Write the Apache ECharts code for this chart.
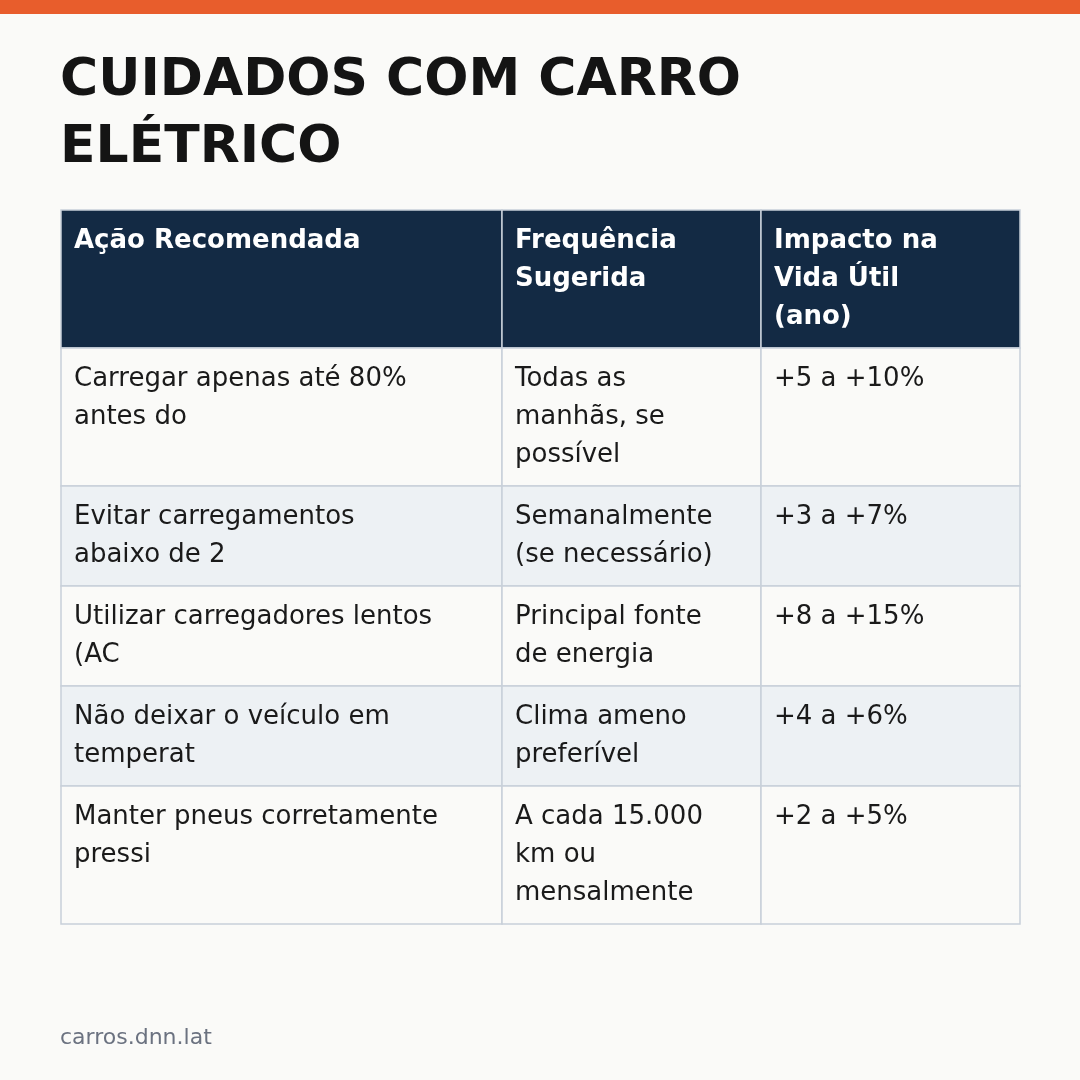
<!DOCTYPE html>
<html>
<head>
<meta charset="utf-8">
<script src="https://cdn.jsdelivr.net/npm/echarts@6/dist/echarts.min.js"></script>
<style>
  html, body { margin: 0; padding: 0; background: #fafaf8; }
  #chart { width: 1080px; height: 1080px; }
</style>
</head>
<body>
<div id="chart"></div>
<script>
// dados da tabela
var title = 'CUIDADOS COM CARRO\nELÉTRICO';
var headers = ['Ação Recomendada', 'Frequência\nSugerida', 'Impacto na\nVida Útil\n(ano)'];
var acoes = [
    'Carregar apenas até 80%\nantes do',
    'Evitar carregamentos\nabaixo de 2',
    'Utilizar carregadores lentos\n(AC',
    'Não deixar o veículo em\ntemperat',
    'Manter pneus corretamente\npressi'
];
var frequencias = [
    'Todas as\nmanhãs, se\npossível',
    'Semanalmente\n(se necessário)',
    'Principal fonte\nde energia',
    'Clima ameno\npreferível',
    'A cada 15.000\nkm ou\nmensalmente'
];
var impactos = ['+5 a +10%', '+3 a +7%', '+8 a +15%', '+4 a +6%', '+2 a +5%'];
var fonte = 'carros.dnn.lat';

var colX = [61, 502, 761, 1020];
var top0 = 210, lineH = 38, padY = 12;
var font = '"DejaVu Sans", sans-serif';

function rowHeight(cells) {
    var n = 0;
    cells.forEach(function (c) { n = Math.max(n, c.split('\n').length); });
    return Math.max(n, 2) * lineH + 24;
}

var g = [];
g.push({type: 'rect', shape: {x: 0, y: 0, width: 1080, height: 14}, style: {fill: '#e85d2c'}});
g.push({type: 'text', left: 60, top: 48, style: {
    text: title, font: 'bold 52px ' + font, fill: '#141414', lineHeight: 67
}});

var rows = [headers];
for (var i = 0; i < acoes.length; i++) rows.push([acoes[i], frequencias[i], impactos[i]]);

var y = top0;
rows.forEach(function (cells, r) {
    var h = rowHeight(cells);
    var fill = r === 0 ? '#132a44' : (r % 2 === 0 ? '#edf1f4' : '#fafaf8');
    for (var c = 0; c < 3; c++) {
        g.push({type: 'rect', shape: {x: colX[c], y: y, width: colX[c + 1] - colX[c], height: h},
            style: {fill: fill, stroke: '#c8d0d9', lineWidth: 1.5}});
        g.push({type: 'text', x: colX[c] + 13, y: y + padY, style: {
            text: cells[c], font: (r === 0 ? 'bold ' : '') + '26px ' + font,
            fill: r === 0 ? '#ffffff' : '#1a1a1a', lineHeight: lineH
        }});
    }
    y += h;
});

g.push({type: 'text', x: 60, y: 1027, style: {text: fonte, font: '22px ' + font, fill: '#6b7280'}});

var chart = echarts.init(document.getElementById('chart'));
chart.setOption({backgroundColor: '#fafaf8', graphic: g});
</script>
</body>
</html>
